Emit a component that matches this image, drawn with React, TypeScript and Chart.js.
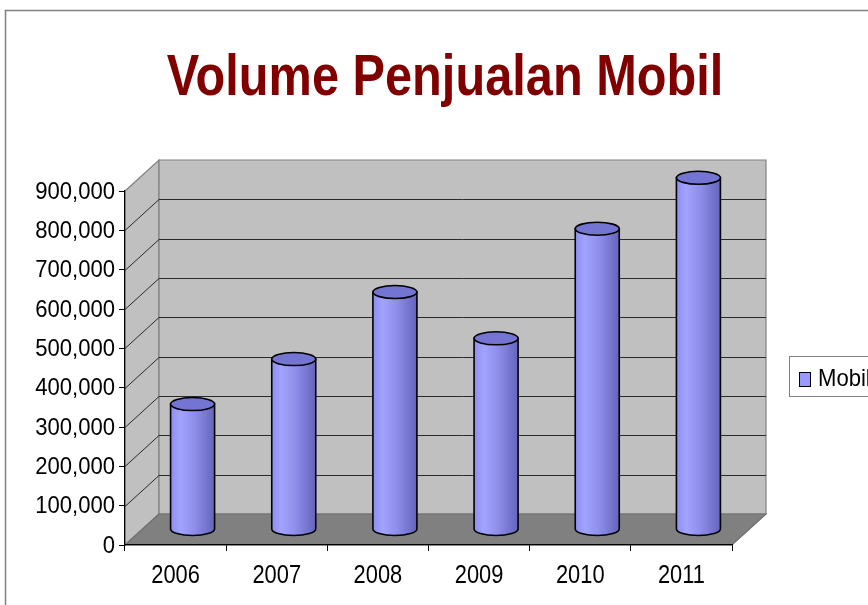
import React, { useEffect, useRef } from 'react';
import { Chart, registerables } from 'chart.js';

Chart.register(...registerables);

// ---- data ----
const categories = ['2006', '2007', '2008', '2009', '2010', '2011'];
const seriesName = 'Mobil';
const mobilValues = [318904, 433341, 603774, 486061, 764710, 894164];
const yMin = 0;
const yMax = 900000;
const yStep = 100000;
const titleText = 'Volume Penjualan Mobil';

// ---- style ----
const FONT = '"Liberation Sans", Arial, sans-serif';
const DX = 34;
const DY = -31;
const BAR_W = 44;
const RY = 6.5;

function cylGradient(ctx: CanvasRenderingContext2D, left: number, right: number) {
  const g = ctx.createLinearGradient(left, 0, right, 0);
  g.addColorStop(0, '#8e8ef2');
  g.addColorStop(0.22, '#a2a2ff');
  g.addColorStop(0.55, '#8e8eea');
  g.addColorStop(1, '#6464bc');
  return g;
}

// draw horizontally condensed text (no narrow font installed)
function narrowText(
  ctx: CanvasRenderingContext2D,
  text: string,
  x: number,
  y: number,
  font: string,
  sx: number,
  align: CanvasTextAlign,
  color: string,
  baseline: CanvasTextBaseline = 'middle'
) {
  ctx.save();
  ctx.font = font;
  ctx.fillStyle = color;
  ctx.textAlign = align;
  ctx.textBaseline = baseline;
  ctx.translate(x, y);
  ctx.scale(sx, 1);
  ctx.fillText(text, 0, 0);
  ctx.restore();
}

const scenePlugin = {
  id: 'scene3d',
  beforeDraw(chart: any) {
    const { ctx, chartArea: a } = chart;
    const y = chart.scales.y;
    const L = a.left, R = a.right, T = a.top, B = a.bottom;
    ctx.save();
    ctx.fillStyle = '#ffffff';
    ctx.fillRect(0, 0, chart.width, chart.height);
    // frame
    ctx.strokeStyle = '#808080';
    ctx.lineWidth = 1.5;
    ctx.strokeRect(5.5, 10.5, chart.width + 40, chart.height + 40);
    // title
    narrowText(ctx, titleText, 445, 95, `bold 58px ${FONT}`, 0.84, 'center', '#800000', 'alphabetic');

    const poly = (pts: number[][], fill: string, stroke?: string) => {
      ctx.beginPath();
      ctx.moveTo(pts[0][0], pts[0][1]);
      for (let i = 1; i < pts.length; i++) ctx.lineTo(pts[i][0], pts[i][1]);
      ctx.closePath();
      ctx.fillStyle = fill;
      ctx.fill();
      if (stroke) {
        ctx.strokeStyle = stroke;
        ctx.lineWidth = 1.2;
        ctx.stroke();
      }
    };
    // left wall
    poly([[L, T], [L + DX, T + DY], [L + DX, B + DY], [L, B]], '#c0c0c0', '#808080');
    // back wall
    poly([[L + DX, T + DY], [R + DX, T + DY], [R + DX, B + DY], [L + DX, B + DY]], '#c0c0c0', '#808080');
    // grid lines on walls
    ctx.strokeStyle = '#2a2a2a';
    ctx.lineWidth = 1;
    for (let v = yMin + yStep; v < yMax; v += yStep) {
      const py = Math.round(y.getPixelForValue(v)) + 0.5;
      ctx.beginPath();
      ctx.moveTo(L, py);
      ctx.lineTo(L + DX, py + DY);
      ctx.lineTo(R + DX, py + DY);
      ctx.stroke();
    }
    // floor
    poly([[L, B], [R, B], [R + DX, B + DY], [L + DX, B + DY]], '#808080', '#707070');
    ctx.restore();
  },
  beforeDatasetsDraw(chart: any) {
    chart.ctx.save();
    chart.ctx.translate(DX / 2, DY / 2);
  },
  afterDatasetsDraw(chart: any) {
    const ctx = chart.ctx as CanvasRenderingContext2D;
    const meta = chart.getDatasetMeta(0);
    meta.data.forEach((el: any) => {
      const { x, y, base, width } = el.getProps(['x', 'y', 'base', 'width'], true);
      const l = x - width / 2;
      const r = x + width / 2;
      const rx = width / 2;
      // body
      ctx.beginPath();
      ctx.moveTo(l, y);
      ctx.lineTo(l, base);
      ctx.ellipse(x, base, rx, RY, 0, Math.PI, 0, true);
      ctx.lineTo(r, y);
      ctx.closePath();
      ctx.fillStyle = cylGradient(ctx, l, r);
      ctx.fill();
      ctx.strokeStyle = '#000';
      ctx.lineWidth = 1.6;
      ctx.stroke();
      // top face
      ctx.beginPath();
      ctx.ellipse(x, y, rx, RY, 0, 0, Math.PI * 2);
      ctx.fillStyle = '#7474d2';
      ctx.fill();
      ctx.stroke();
    });
    ctx.restore();
  },
  afterDraw(chart: any) {
    const ctx = chart.ctx as CanvasRenderingContext2D;
    const xs = chart.scales.x;
    const ys = chart.scales.y;
    // axis labels, positioned by the library's scales
    ys.ticks.forEach((t: any, i: number) => {
      const py = ys.getPixelForTick(i);
      narrowText(ctx, Number(t.value).toLocaleString('en-US'), 115, py + 1, `24px ${FONT}`, 0.92, 'right', '#000');
    });
    xs.ticks.forEach((_t: any, i: number) => {
      const px = xs.getPixelForTick(i);
      narrowText(ctx, categories[i], px, 576, `26px ${FONT}`, 0.84, 'center', '#000');
    });

    // legend
    ctx.save();
    ctx.fillStyle = '#fff';
    ctx.fillRect(789.5, 356.5, 100, 40);
    ctx.strokeStyle = '#808080';
    ctx.lineWidth = 1;
    ctx.strokeRect(789.5, 356.5, 100, 40);
    ctx.fillStyle = '#9999ff';
    ctx.fillRect(799.5, 372.5, 11, 14);
    ctx.strokeStyle = '#000';
    ctx.strokeRect(799.5, 372.5, 11, 14);
    ctx.restore();
    narrowText(ctx, seriesName, 818, 379, `24px ${FONT}`, 0.92, 'left', '#000');
  },
};

export default function App() {
  const ref = useRef<HTMLCanvasElement | null>(null);
  useEffect(() => {
    if (!ref.current) return;
    const chart = new Chart(ref.current, {
      type: 'bar',
      data: {
        labels: categories,
        datasets: [
          {
            label: seriesName,
            data: mobilValues,
            barThickness: BAR_W,
            backgroundColor: '#9999ff',
            borderWidth: 0,
          },
        ],
      },
      options: {
        responsive: false,
        animation: false,
        devicePixelRatio: 1,
        layout: { padding: { top: 191, right: 136, bottom: 20, left: 0 } },
        plugins: {
          legend: { display: false },
          title: { display: false },
          tooltip: { enabled: false },
        },
        scales: {
          x: {
            type: 'category',
            offset: true,
            grid: { offset: true, drawOnChartArea: false, tickLength: 6, color: '#000', lineWidth: 1 },
            border: { color: '#000', width: 1.2 },
            ticks: { color: 'rgba(0,0,0,0)', font: { family: FONT, size: 24 }, padding: 6, maxRotation: 0 },
            afterFit: (s: any) => { s.height = 40; },
          },
          y: {
            min: yMin,
            max: yMax,
            grid: { drawOnChartArea: false, tickLength: 6, color: '#000', lineWidth: 1 },
            border: { color: '#000', width: 1.2 },
            ticks: {
              stepSize: yStep,
              color: 'rgba(0,0,0,0)',
              font: { family: FONT, size: 24 },
              padding: 4,
              callback: (v: any) => Number(v).toLocaleString('en-US'),
            },
            afterFit: (s: any) => { s.width = 125; },
          },
        },
      },
      plugins: [scenePlugin],
    });
    return () => chart.destroy();
  }, []);
  return (
    <div style={{ position: 'fixed', left: 0, top: 0, width: 868, height: 605, overflow: 'hidden', background: '#fff' }}>
      <canvas ref={ref} width={868} height={605} style={{ display: 'block', width: 868, height: 605 }} />
    </div>
  );
}
